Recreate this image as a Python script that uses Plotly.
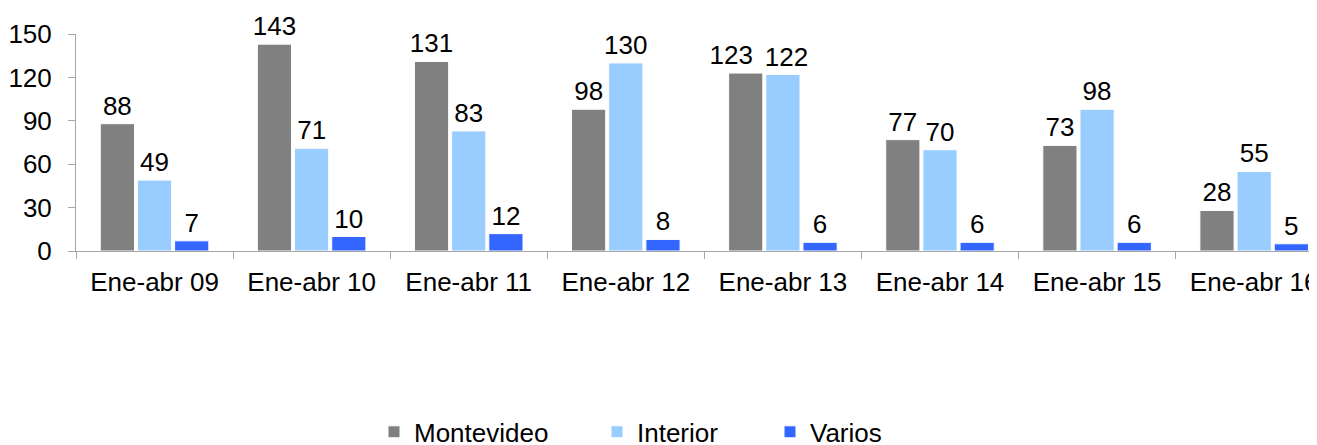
import plotly.graph_objects as go

categorias = ["Ene-abr 09", "Ene-abr 10", "Ene-abr 11", "Ene-abr 12",
              "Ene-abr 13", "Ene-abr 14", "Ene-abr 15", "Ene-abr 16"]
montevideo = [88, 143, 131, 98, 123, 77, 73, 28]
interior = [49, 71, 83, 130, 122, 70, 98, 55]
varios = [7, 10, 12, 8, 6, 6, 6, 5]

series = [
    ("Montevideo", montevideo, "#808080", "legend"),
    ("Interior", interior, "#99CCFF", "legend2"),
    ("Varios", varios, "#3366FF", "legend3"),
]

# corrimiento de etiquetas que se pisan (espacios a derecha < 0, a izquierda > 0)
corrimiento = {("Montevideo", 4): -4, ("Interior", 4): 1}

fuente = "Liberation Sans, Arial, sans-serif"
# la pagina tiene 8 px de margen en el body: la figura se achica para compensar
ancho, alto = 1309, 437


def etiqueta(nombre, i, v):
    n = corrimiento.get((nombre, i), 0)
    esp = "\u00a0" * abs(n)
    return esp + str(v) if n > 0 else str(v) + esp


fig = go.Figure()
for nombre, valores, color, leyenda in series:
    fig.add_trace(go.Bar(
        x=categorias, y=valores, name=nombre,
        marker=dict(color=color, line=dict(color="white", width=1)),
        text=[etiqueta(nombre, i, v) for i, v in enumerate(valores)],
        textposition="outside",
        textfont=dict(size=26, color="black", family=fuente),
        constraintext="none", cliponaxis=False, legend=leyenda,
    ))

ejes = dict(showline=True, linecolor="#A6A6A6", linewidth=1, ticks="outside",
            tickcolor="#A6A6A6", ticklen=7, showgrid=False, zeroline=False,
            automargin=False,
            tickfont=dict(size=26, color="black", family=fuente))

def leyenda(x):
    return dict(orientation="h", x=x / ancho, xref="container", xanchor="left",
                y=0.03, yref="container", yanchor="middle",
                font=dict(size=26, color="black", family=fuente),
                bgcolor="rgba(0,0,0,0)")

fig.update_layout(
    width=ancho, height=alto,
    margin=dict(l=68, r=0, t=26, b=194, autoexpand=False),
    paper_bgcolor="white", plot_bgcolor="white",
    barmode="group", bargap=0.29, bargroupgap=0.08,
    font=dict(family=fuente, color="black"),
    xaxis=dict(**ejes, type="category", tickson="boundaries",
               range=[-0.5, 7.4], ticklabelstandoff=8),
    yaxis=dict(**ejes, range=[0, 150], tickvals=[0, 30, 60, 90, 120, 150],
               ticklabelstandoff=11),
    legend=leyenda(366),
    legend2=leyenda(589),
    legend3=leyenda(762),
    showlegend=True,
)

fig.write_html("out.html")
